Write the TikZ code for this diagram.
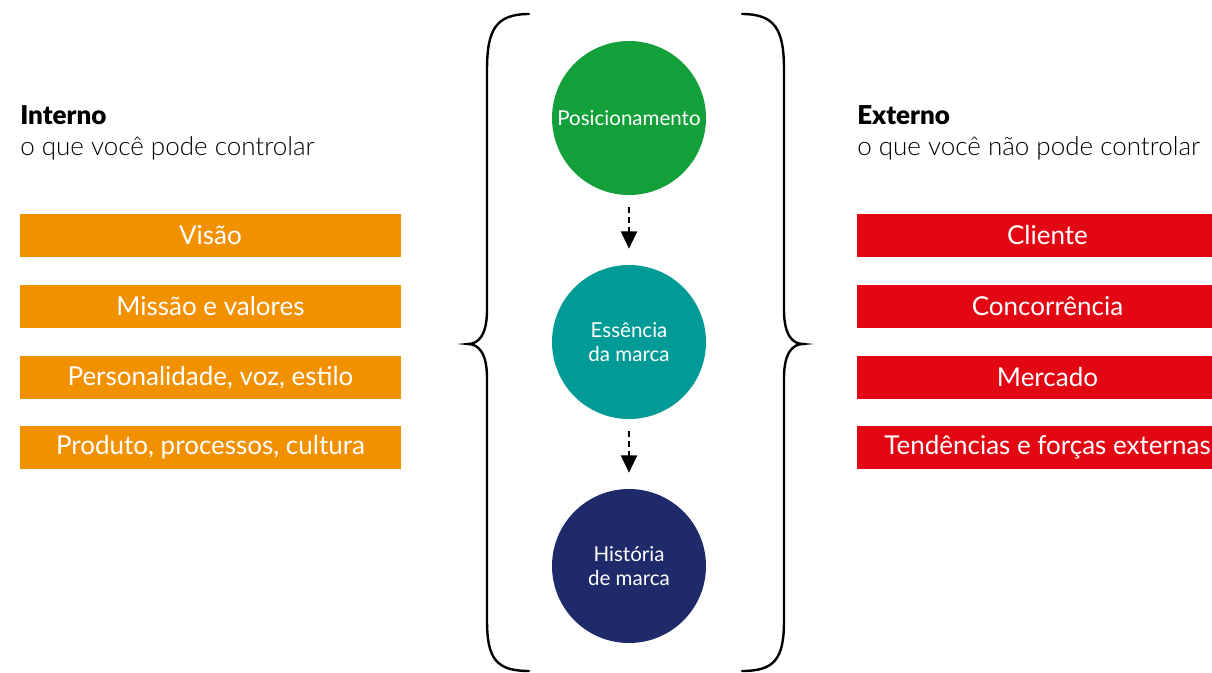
\documentclass[tikz,border=0pt]{standalone}
\usepackage{fontspec}
\setmainfont{Lato Light}[BoldFont=Lato Black]
\newfontfamily\regfont{Lato}
\usetikzlibrary{arrows.meta}
\definecolor{boxorange}{HTML}{F29100}
\definecolor{boxred}{HTML}{E30613}
\definecolor{circgreen}{HTML}{13A03A}
\definecolor{circteal}{HTML}{009B96}
\definecolor{circnavy}{HTML}{1F2A6B}
\tikzstyle{int_box} = [fill=boxorange, text=white, minimum width=285.75pt, minimum height=32.25pt, inner sep=0pt, font=\regfont\fontsize{19.5}{22}\selectfont]
\tikzstyle{ext_box} = [int_box, fill=boxred]
\tikzstyle{brand_circle} = [circle, minimum size=115.5pt, inner sep=0pt, text=white, align=center, font=\regfont\fontsize{15.4}{18}\selectfont]
\tikzstyle{head_text} = [anchor=base west, inner sep=0pt, font=\fontsize{19.5}{22}\selectfont]
\tikzstyle{flow_arrow} = [dash pattern=on 4.5pt off 3pt, line width=1.5pt, -{Triangle[length=13pt,width=12pt]}, shorten <=9pt, shorten >=12pt]
\tikzstyle{brace_line} = [line width=1.8pt, line cap=round]

\begin{document}
\begin{tikzpicture}[x=0.75pt, y=-0.75pt, node distance=53.25pt]
				\clip (0,0) rectangle (1212,672);
				\useasboundingbox (0,0) rectangle (1212,672);
				
				% internal side
				\node[head_text, font=\fontsize{19.5}{22}\selectfont\bfseries] (int) at (20,124) {Interno};
				\node[head_text] (intsub) at (20,155) {o que você pode controlar};
				\node[int_box] (vis) at (210.5,235.5) {Visão};
				\node[int_box, below of=vis] (mis) {Missão e valores};
				\node[int_box, below of=mis] (per) {Personalidade, voz, estilo};
				\node[int_box, below of=per, yshift=.75pt] (pro) {Produto, processos, cultura};
				
				% external side
				\node[head_text, font=\fontsize{19.5}{22}\selectfont\bfseries] (ext) at (857,124) {Externo};
				\node[head_text] (extsub) at (857,155) {o que você não pode controlar};
				\node[ext_box] (cli) at (1047.5,235.5) {Cliente};
				\node[ext_box, below of=cli] (con) {Concorrência};
				\node[ext_box, below of=con] (mer) {Mercado};
				\node[ext_box, below of=mer, yshift=.75pt] (ten) {Tendências e forças externas};
				
				% brand circles
				\node[brand_circle, fill=circgreen] (pos) at (629,118) {Posicionamento};
				\node[brand_circle, fill=circteal, below of=pos, yshift=-114.75pt] (ess) {Essência\\da marca};
				\node[brand_circle, fill=circnavy, below of=ess, yshift=-114.75pt] (his) {História\\de marca};
				
				% draw lines
				\draw[flow_arrow] (pos) -- (ess);
				\draw[flow_arrow] (ess) -- (his);
				
				% braces
				\foreach \s in {1,-1}
				\draw[brace_line, shift={(635.5,0)}, xscale=\s] (-106.5,14) .. controls (-140,14) and (-148.5,30) .. (-148.5,70) -- (-148.5,310) .. controls (-148.5,335) and (-157,344) .. (-167.5,344) .. controls (-157,344) and (-148.5,353) .. (-148.5,378) -- (-148.5,620) .. controls (-148.5,658) and (-140,671) .. (-106.5,671);
			\end{tikzpicture}
\end{document}
